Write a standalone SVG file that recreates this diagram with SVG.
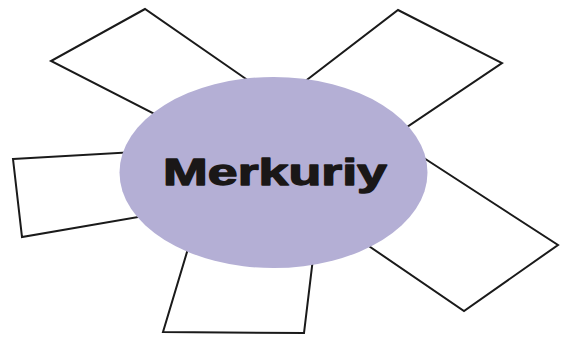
<svg xmlns="http://www.w3.org/2000/svg" width="571" height="340" viewBox="0 0 571 340">
<style>
.box{fill:#fff;stroke:#1a1a1a;stroke-width:2;stroke-linejoin:miter}
.hub{fill:#b4afd5}
.lbl{font-family:"Liberation Sans",Arial,sans-serif;font-weight:bold;font-size:37px;fill:#1a1717;stroke:#1a1717;stroke-width:1.3;stroke-linejoin:round}
</style>
<rect width="571" height="340" fill="#fff"/>
<g id="box-top-left"><polygon class="box" points="145,9 51,61 170,122 262,90"/></g>
<g id="box-top-right"><polygon class="box" points="398,10 502,63 395,135 295,89"/></g>
<g id="box-left"><polygon class="box" points="13,159 135,152 150,215 22,237"/></g>
<g id="box-bottom"><polygon class="box" points="193,232 163,332 304,333 314,250"/></g>
<g id="box-bottom-right"><polygon class="box" points="410,149 558,245 464,311 360,240"/></g>
<g id="hub">
<ellipse class="hub" cx="273.5" cy="172.5" rx="154" ry="95.5"/>
<text class="lbl" x="163" y="185" textLength="224" lengthAdjust="spacingAndGlyphs">Merkuriy</text>
</g>
</svg>
